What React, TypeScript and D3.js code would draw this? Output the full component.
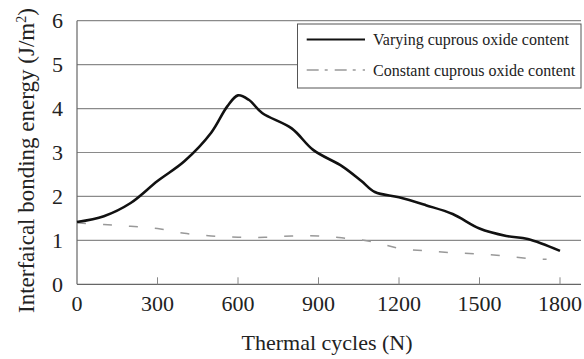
import React from "react";
import * as d3 from "d3";

const xTicks = [0, 300, 600, 900, 1200, 1500, 1800];
const yTicks = [0, 1, 2, 3, 4, 5, 6];

const varyingX = [0, 100, 200, 300, 400, 500, 560, 600, 640, 690, 800, 880, 990, 1060, 1110, 1200, 1300, 1400, 1500, 1600, 1680, 1800];
const varyingY = [1.42, 1.55, 1.85, 2.35, 2.8, 3.45, 4.05, 4.3, 4.2, 3.9, 3.55, 3.06, 2.68, 2.35, 2.1, 1.98, 1.8, 1.6, 1.27, 1.1, 1.03, 0.76];

const constantX = [0, 100, 200, 300, 400, 500, 600, 700, 800, 900, 1000, 1100, 1200, 1300, 1400, 1500, 1600, 1700, 1750];
const constantY = [1.4, 1.36, 1.32, 1.27, 1.16, 1.1, 1.07, 1.07, 1.1, 1.1, 1.05, 0.97, 0.82, 0.76, 0.72, 0.69, 0.64, 0.58, 0.57];

const seriesNames = ["Varying cuprous oxide content", "Constant cuprous oxide content"];
const xTitle = "Thermal cycles (N)";
const yTitle = "Interfaical bonding energy (J/m";

export default function App() {
  const W = 584, H = 359;
  const x = d3.scaleLinear().domain([0, 1800]).range([77, 560]);
  const xMax = x.invert(581);
  const y = d3.scaleLinear().domain([0, 6]).range([284.3, 20.7]);
  const ts = { fontFamily: "Liberation Serif" };

  const line = d3.line<[number, number]>()
    .x(d => x(d[0]))
    .y(d => y(d[1]))
    .curve(d3.curveCatmullRom.alpha(0.5));

  const varying = varyingX.map((v, i) => [v, varyingY[i]] as [number, number]);
  const constant = constantX.map((v, i) => [v, constantY[i]] as [number, number]);

  return (
    <svg width={W} height={H} style={{ position: "absolute", left: 0, top: 0, background: "#fff" }}>
      {yTicks.filter(t => t > 0).map(t => (
        <line key={"g" + t} x1={x(0)} x2={x(xMax)} y1={y(t)} y2={y(t)} stroke="#8a8a8a" strokeWidth={1.2} />
      ))}
      <line x1={x(0)} x2={x(0)} y1={y(0)} y2={y(6)} stroke="#666" strokeWidth={1.2} />
      <line x1={x(0)} x2={x(xMax)} y1={y(0)} y2={y(0)} stroke="#666" strokeWidth={1.2} />
      {xTicks.filter(t => t > 0).map(t => (
        <line key={"xt" + t} x1={x(t)} x2={x(t)} y1={y(0)} y2={y(0) - 7} stroke="#888" strokeWidth={1} />
      ))}
      {xTicks.map(t => (
        <text key={"xl" + t} x={x(t)} y={311} textAnchor="middle" fontSize={22} fill="#222" style={ts}>{t}</text>
      ))}
      {yTicks.map(t => (
        <text key={"yl" + t} x={63} y={y(t) + 7.5} textAnchor="end" fontSize={22} fill="#222" style={ts}>{t}</text>
      ))}
      <path d={line(constant) || ""} fill="none" stroke="#999" strokeWidth={1.5} strokeDasharray="9 17" />
      <path d={line(varying) || ""} fill="none" stroke="#111" strokeWidth={2.6} strokeLinejoin="round" />
      <rect x={297.5} y={24} width={283.5} height={64} fill="#fff" stroke="#555" strokeWidth={1} />
      <line x1={306.7} x2={365} y1={39.5} y2={39.5} stroke="#111" strokeWidth={2.2} />
      <line x1={306.7} x2={365} y1={70} y2={70} stroke="#999" strokeWidth={1.4} strokeDasharray="12 6 3 7" />
      <text x={373} y={45} fontSize={16} fill="#222" style={ts}>{seriesNames[0]}</text>
      <text x={373} y={75.5} fontSize={16} fill="#222" style={ts}>{seriesNames[1]}</text>
      <text x={327} y={350} textAnchor="middle" fontSize={22} fill="#222" style={ts}>{xTitle}</text>
      <text transform="translate(34,313) rotate(-90)" textAnchor="start" fontSize={23} fill="#222" style={ts}>
        {yTitle}
        <tspan dy={-8} fontSize={14}>2</tspan>
        <tspan dy={8}>)</tspan>
      </text>
    </svg>
  );
}
